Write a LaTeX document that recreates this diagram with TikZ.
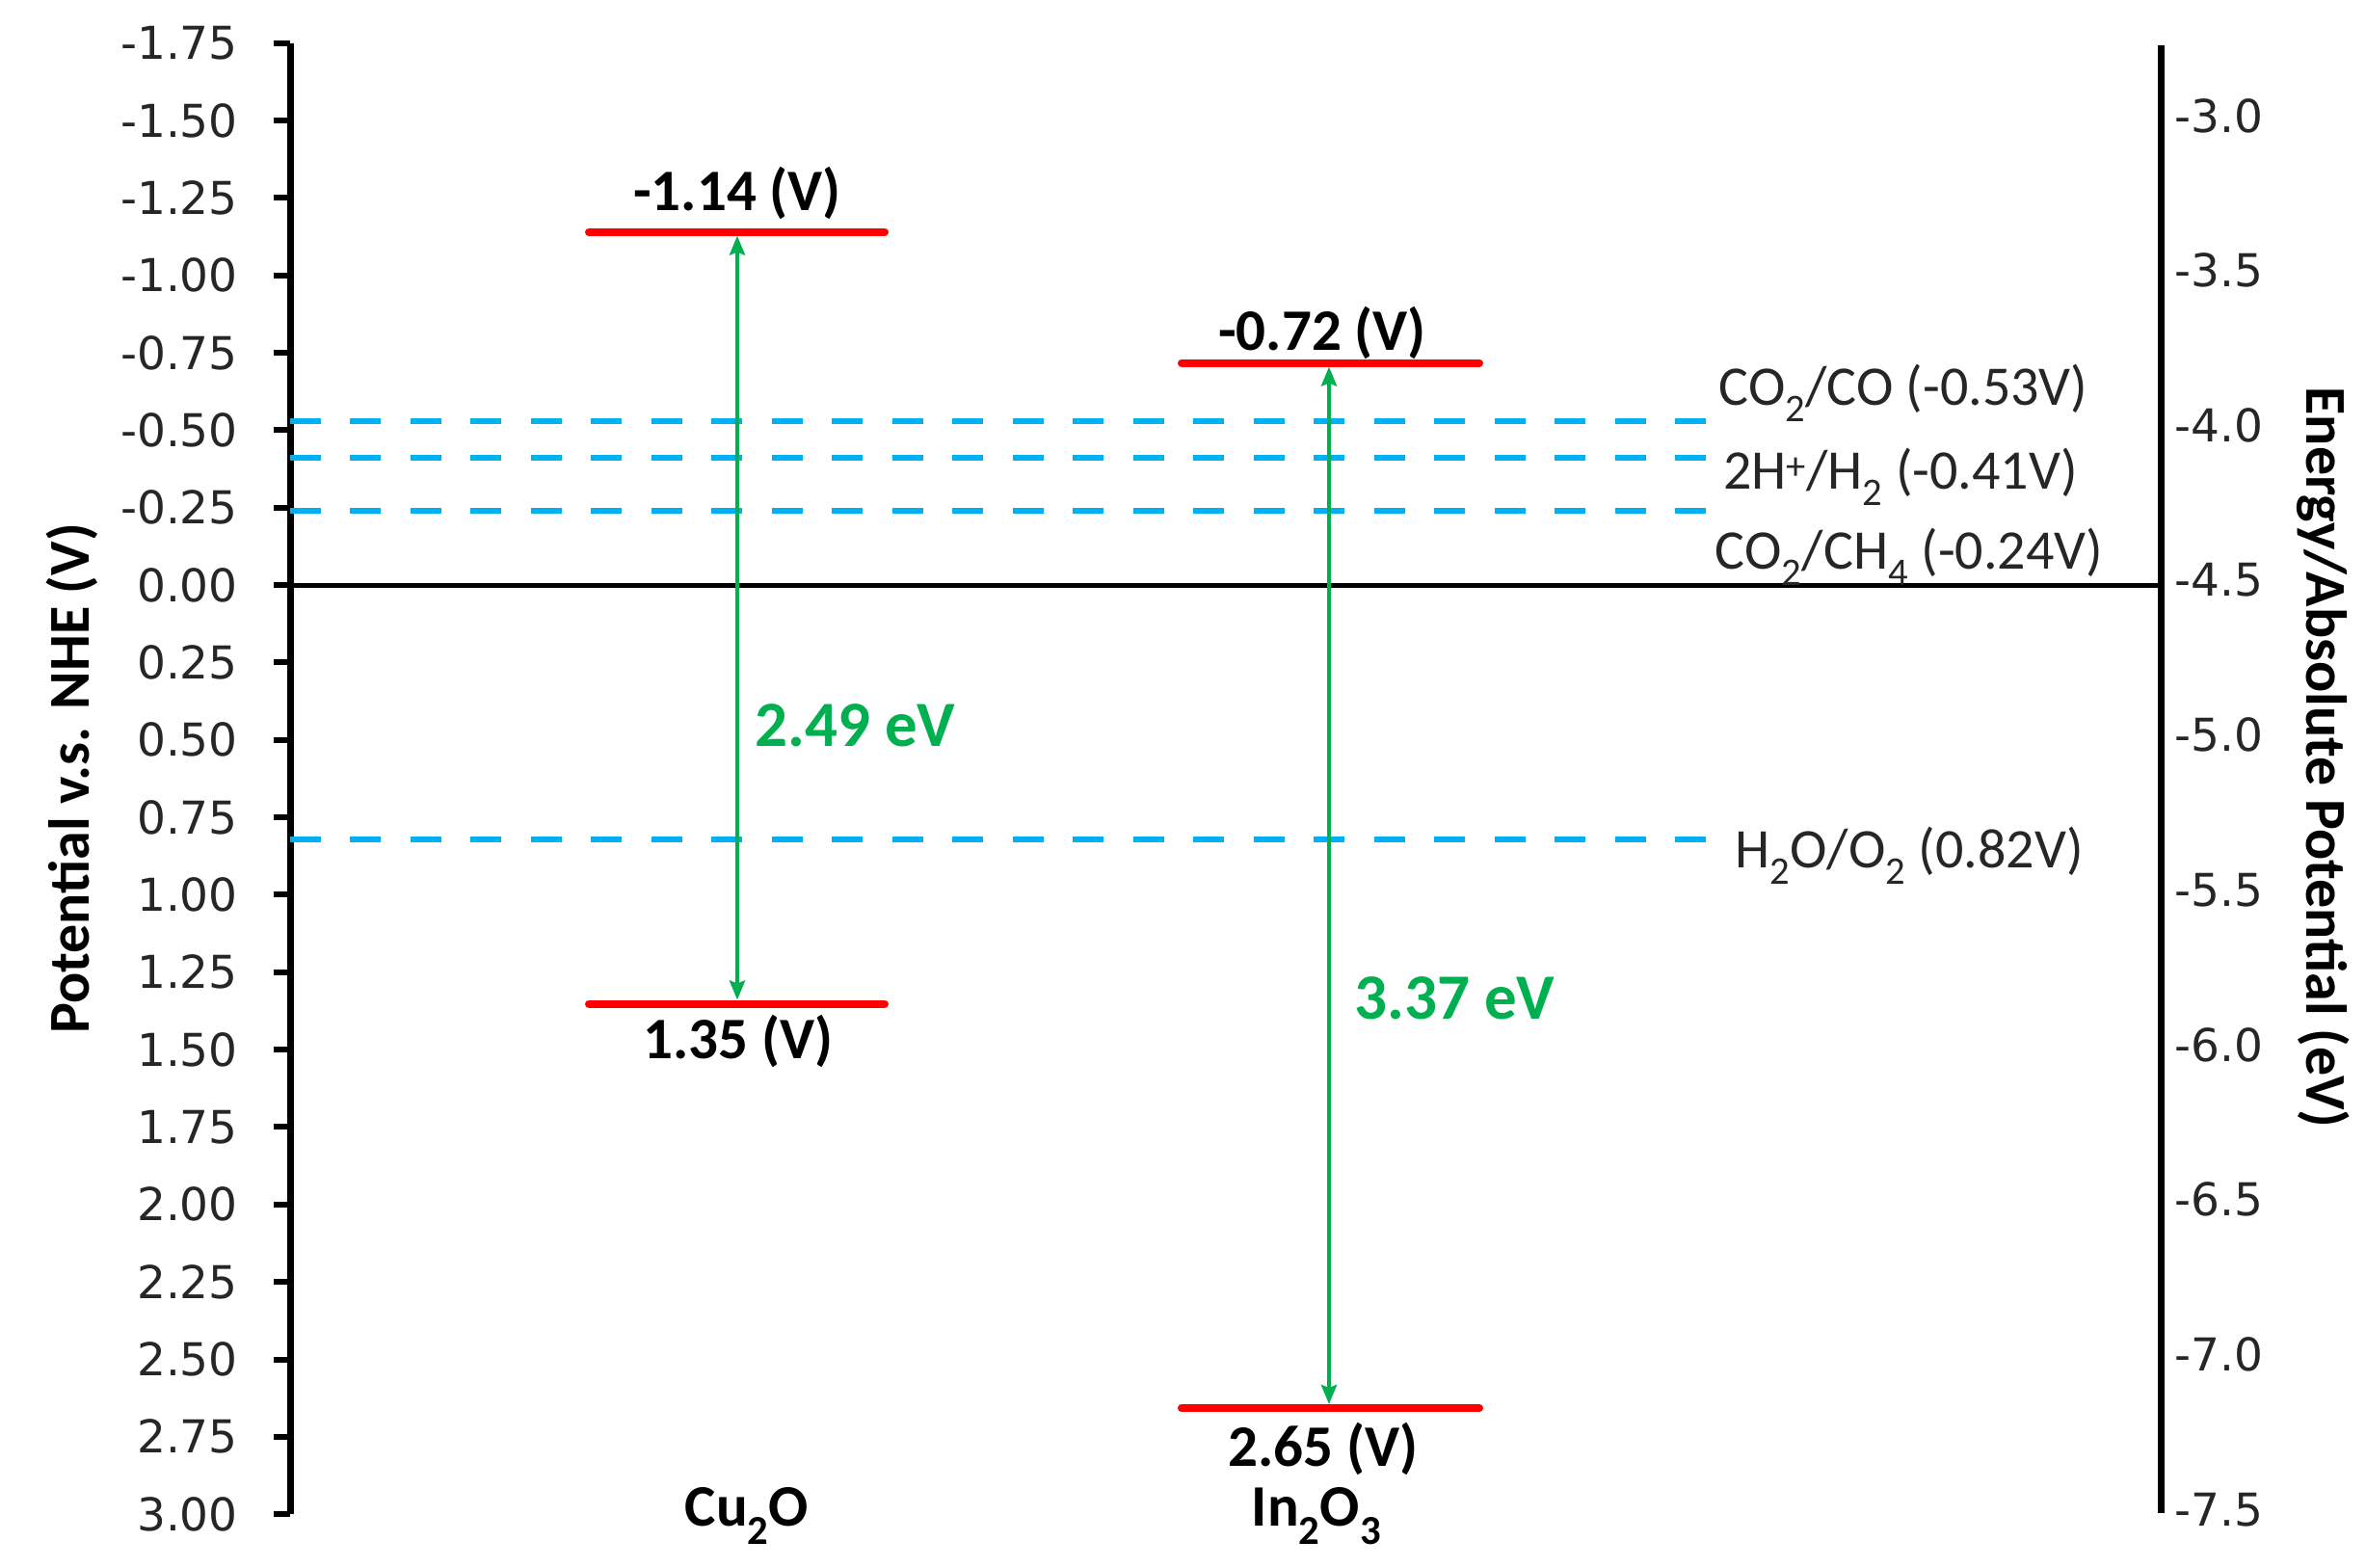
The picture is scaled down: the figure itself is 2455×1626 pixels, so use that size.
\documentclass[tikz,border=0pt]{standalone}
\usepackage{fontspec}
\setmainfont{Carlito}
\newfontfamily\tickfont{DejaVu Sans}
\usetikzlibrary{arrows.meta}
\definecolor{bandred}{HTML}{FF0000}
\definecolor{gapgreen}{HTML}{00B050}
\definecolor{redoxblue}{HTML}{00B0F0}
\begin{document}
\begin{tikzpicture}[x=1pt,y=-1pt,
  axisline/.style={draw=black,line width=7pt},
  zeroline/.style={draw=black,line width=5pt},
  tickmark/.style={draw=black,line width=6pt},
  redox/.style={draw=redoxblue,line width=6pt,dash pattern=on 32pt off 30.5pt},
  band/.style={draw=bandred,line width=8pt,line cap=round},
  gaparrow/.style={draw=gapgreen,line width=4pt,{Stealth[length=20pt,width=16pt,inset=3pt]}-{Stealth[length=20pt,width=16pt,inset=3pt]}},
  ticklbl/.style={font=\tickfont\fontsize{47}{56}\selectfont,text=black!85,inner sep=0pt},
  redoxlbl/.style={font=\fontsize{58}{66}\selectfont,text=black!85,anchor=base,inner sep=0pt},
  vlbl/.style={font=\fontsize{61}{70}\selectfont\bfseries,anchor=base,inner sep=0pt},
  eglbl/.style={font=\fontsize{67}{76}\selectfont\bfseries,text=gapgreen,anchor=base west,inner sep=0pt},
  axtitle/.style={font=\fontsize{60}{70}\selectfont\bfseries,inner sep=0pt}
]
\useasboundingbox (0,0) rectangle (2455,1626);

% left axis with ticks and labels
\coordinate (LT) at (301,44.5);
\coordinate (LB) at (301,1571.2);
\draw[axisline] (LT) -- (LB);
\foreach \v/\t [count=\i] in {-1.75/-1.75,-1.5/-1.50,-1.25/-1.25,-1/-1.00,-0.75/-0.75,-0.5/-0.50,-0.25/-0.25,0/0.00,0.25/0.25,0.5/0.50,0.75/0.75,1/1.00,1.25/1.25,1.5/1.50,1.75/1.75,2/2.00,2.25/2.25,2.5/2.50,2.75/2.75,3/3.00}{
  \draw[tickmark] (284,{607+321.4*\v}) -- (301,{607+321.4*\v});
  \node[ticklbl,anchor=east] (tl\i) at (247,{607+321.4*\v}) {\t};
}

% right axis with labels
\coordinate (RT) at (2242,47);
\coordinate (RB) at (2242,1570);
\draw[axisline] (RT) -- (RB);
\foreach \e/\t [count=\i] in {-3/-3.0,-3.5/-3.5,-4/-4.0,-4.5/-4.5,-5/-5.0,-5.5/-5.5,-6/-6.0,-6.5/-6.5,-7/-7.0,-7.5/-7.5}{
  \node[ticklbl,anchor=west] (tr\i) at (2256,{602+321.4*(-\e-4.5)}) {\t};
}

% axis titles
\node[axtitle,rotate=90] (ytitle) at (75,808) {Potential v.s. NHE (V)};
\node[axtitle,rotate=-90] (y2title) at (2411,786) {Energy/Absolute Potential (eV)};

% zero line
\coordinate (Z0) at (301,607);
\coordinate (Z1) at (2242,607);
\draw[zeroline] (Z0) -- (Z1);

% redox levels (dashed)
\foreach \v/\n in {-0.53/a,-0.41/b,-0.24/c,0.82/d}{
  \coordinate (rx\n) at (1770,{607+321.4*\v});
  \coordinate (lx\n) at (301,{607+321.4*\v});
  \draw[redox] (rx\n) -- (lx\n);
}
\node[redoxlbl] (l1) at (1975,420) {CO\textsubscript{2}/CO (-0.53V)};
\node[redoxlbl] (l2) at (1972,507) {2H\textsuperscript{+}/H\textsubscript{2} (-0.41V)};
\node[redoxlbl] (l3) at (1981,590) {CO\textsubscript{2}/CH\textsubscript{4} (-0.24V)};
\node[redoxlbl] (l4) at (1981,900) {H\textsubscript{2}O/O\textsubscript{2} (0.82V)};

% Cu2O bands
\coordinate (cuCBl) at (611,240.6);
\coordinate (cuCBr) at (918,240.6);
\coordinate (cuCB) at (765,240.6);
\coordinate (cuVBl) at (611,1041.5);
\coordinate (cuVBr) at (918,1041.5);
\coordinate (cuVB) at (765,1041.5);
\draw[band] (cuCBl) -- (cuCBr);
\draw[band] (cuVBl) -- (cuVBr);
\draw[gaparrow,shorten <=4pt,shorten >=4pt] (cuCB) -- (cuVB);

% In2O3 bands
\coordinate (inCBl) at (1226,376.5);
\coordinate (inCBr) at (1535,376.5);
\coordinate (inCB) at (1379,376.5);
\coordinate (inVBl) at (1226,1461);
\coordinate (inVBr) at (1535,1461);
\coordinate (inVB) at (1379,1461);
\draw[band] (inCBl) -- (inCBr);
\draw[band] (inVBl) -- (inVBr);
\draw[gaparrow,shorten <=4pt,shorten >=4pt] (inCB) -- (inVB);

% value labels
\node[vlbl] (v1) at (765,218) {-1.14 (V)};
\node[vlbl] (v2) at (766,1098) {1.35 (V)};
\node[vlbl] (v3) at (1372,363) {-0.72 (V)};
\node[vlbl] (v4) at (1373,1521) {2.65 (V)};
\node[vlbl] (m1) at (775,1583) {Cu\textsubscript{2}O};
\node[vlbl] (m2) at (1366,1583) {In\textsubscript{2}O\textsubscript{3}};

% band gap labels
\node[eglbl] (g1) at (783,774) {2.49 eV};
\node[eglbl] (g2) at (1405,1057) {3.37 eV};
\end{tikzpicture}
\end{document}
